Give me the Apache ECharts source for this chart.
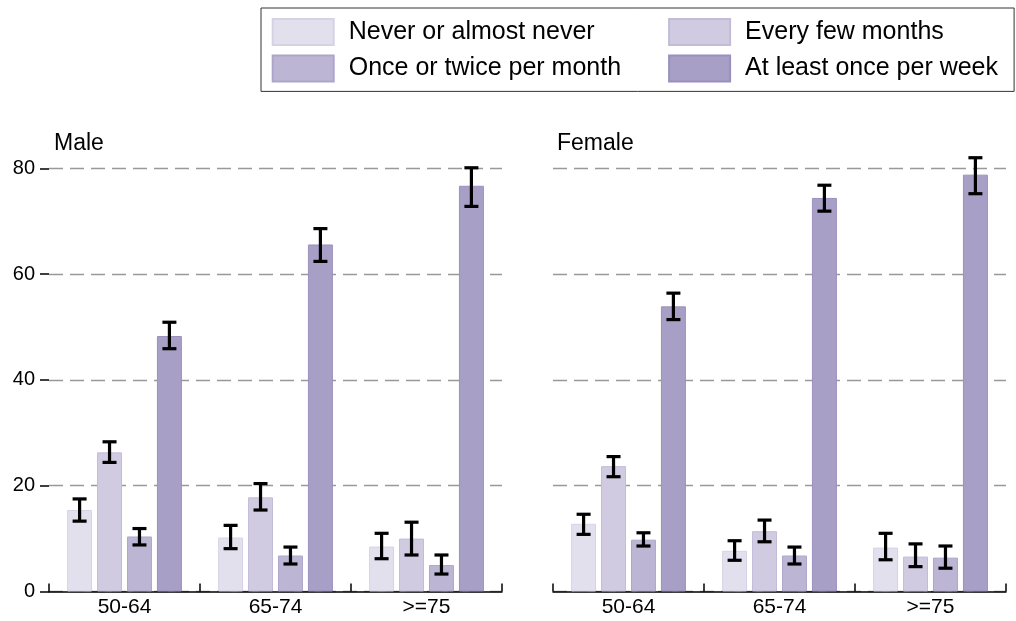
<!DOCTYPE html>
<html>
<head>
<meta charset="utf-8">
<script src="https://cdn.jsdelivr.net/npm/echarts@6/dist/echarts.min.js"></script>
<style>html,body{margin:0;padding:0;background:#fff}#c{width:1016px;height:621px}</style>
</head>
<body>
<div id="c"></div>
<script>
// ---- data ----
var categories = ['50-64', '65-74', '>=75'];
var seriesNames = ['Never or almost never', 'Every few months', 'Once or twice per month', 'At least once per week'];
var panelTitles = ['Male', 'Female'];
var yTicks = [0, 20, 40, 60, 80];

var maleNever  = [15.4, 10.2, 8.5];
var maleFew    = [26.3, 17.8, 10.0];
var maleOnce   = [10.4, 6.8, 5.0];
var maleWeekly = [48.3, 65.6, 76.7];
var maleNeverCI  = [[13.3, 17.5], [8.1, 12.5], [6.2, 11.0]];
var maleFewCI    = [[24.4, 28.3], [15.4, 20.4], [6.9, 13.1]];
var maleOnceCI   = [[8.8, 11.9], [5.2, 8.4], [3.3, 6.9]];
var maleWeeklyCI = [[45.9, 50.9], [62.4, 68.6], [72.8, 80.1]];

var femaleNever  = [12.8, 7.7, 8.3];
var femaleFew    = [23.7, 11.4, 6.6];
var femaleOnce   = [9.8, 6.8, 6.4];
var femaleWeekly = [53.9, 74.4, 78.8];
var femaleNeverCI  = [[10.8, 14.6], [5.9, 9.6], [6.0, 11.0]];
var femaleFewCI    = [[21.7, 25.5], [9.4, 13.5], [4.7, 9.0]];
var femaleOnceCI   = [[8.6, 11.1], [5.2, 8.4], [4.4, 8.6]];
var femaleWeeklyCI = [[51.4, 56.4], [71.9, 76.8], [75.2, 82.0]];

// ---- styling ----
var colors  = ['#e3e0ee', '#d0cbe1', '#bcb6d4', '#a89fc6'];
var borders = ['#d6d2e6', '#c2bcd8', '#aea6ca', '#9a90bd'];
var FONT = '"Liberation Sans", Arial, sans-serif';
var CAT_GAP = 0.24, BAR_GAP = 0.2, N = 4;

var panels = [
  { vals: [maleNever, maleFew, maleOnce, maleWeekly], ci: [maleNeverCI, maleFewCI, maleOnceCI, maleWeeklyCI] },
  { vals: [femaleNever, femaleFew, femaleOnce, femaleWeekly], ci: [femaleNeverCI, femaleFewCI, femaleOnceCI, femaleWeeklyCI] }
];

function errRender(params, api) {
  var cat = api.value(0), lo = api.value(1), hi = api.value(2), k = api.value(3);
  var band = api.size([1, 0])[0];
  var used = band * (1 - CAT_GAP);
  var bw = used / (N + (N - 1) * BAR_GAP);
  var cx = api.coord([cat, 0])[0] - used / 2 + k * bw * (1 + BAR_GAP) + bw / 2;
  var yl = api.coord([cat, lo])[1], yh = api.coord([cat, hi])[1];
  var cap = 7, st = { stroke: '#000', lineWidth: 3.2 };
  return { type: 'group', children: [
    { type: 'line', shape: { x1: cx, y1: yl, x2: cx, y2: yh }, style: st },
    { type: 'line', shape: { x1: cx - cap, y1: yl, x2: cx + cap, y2: yl }, style: st },
    { type: 'line', shape: { x1: cx - cap, y1: yh, x2: cx + cap, y2: yh }, style: st }
  ]};
}

var series = [];
panels.forEach(function (p, pi) {
  p.vals.forEach(function (arr, k) {
    series.push({
      type: 'bar', name: seriesNames[k], xAxisIndex: pi, yAxisIndex: pi,
      data: arr, barCategoryGap: (CAT_GAP * 100) + '%', barGap: (BAR_GAP * 100) + '%',
      itemStyle: { color: colors[k], borderColor: borders[k], borderWidth: 1 },
      emphasis: { disabled: true }, animation: false
    });
  });
  var errData = [];
  p.ci.forEach(function (ciArr, k) {
    ciArr.forEach(function (c, i) { errData.push([i, c[0], c[1], k]); });
  });
  series.push({
    type: 'custom', xAxisIndex: pi, yAxisIndex: pi, renderItem: errRender,
    data: errData, encode: { x: 0, y: [1, 2] }, clip: false, z: 10, animation: false, silent: true
  });
});

var grids = [
  { left: 49, top: 168.3, width: 453, bottom: 29.5 },
  { left: 553, top: 168.3, width: 453, bottom: 29.5 }
];

function xAx(i) {
  return {
    type: 'category', gridIndex: i, data: categories, boundaryGap: true,
    axisLine: { lineStyle: { color: '#000', width: 1.5 } },
    axisTick: { show: true, inside: true, length: 8, lineStyle: { color: '#000', width: 1.5 } },
    axisLabel: { color: '#000', fontSize: 21, fontFamily: FONT, margin: 5 }
  };
}
function yAx(i) {
  return {
    type: 'value', gridIndex: i, min: yTicks[0], max: yTicks[yTicks.length - 1], interval: yTicks[1] - yTicks[0],
    axisLine: { show: false },
    axisTick: { show: i === 0, length: 9, lineStyle: { color: '#000', width: 1.5 } },
    axisLabel: { show: i === 0, color: '#000', fontSize: 20, fontFamily: FONT, margin: 14 },
    splitLine: { show: true, lineStyle: { color: '#999', width: 1.3, type: [14, 7] } }
  };
}

var leftCol = [seriesNames[0], seriesNames[2]];
var chart = echarts.init(document.getElementById('c'), null, { renderer: 'canvas' });
chart.setOption({
  animation: false,
  backgroundColor: '#fff',
  textStyle: { fontFamily: FONT },
  title: [
    { text: panelTitles[0], left: 49, top: 127, textStyle: { fontSize: 23, fontWeight: 'normal', color: '#000', fontFamily: FONT } },
    { text: panelTitles[1], left: 552, top: 127, textStyle: { fontSize: 23, fontWeight: 'normal', color: '#000', fontFamily: FONT } }
  ],
  legend: {
    left: 261, top: 8, width: 752,
    padding: [10, 10, 9, 10.7],
    itemWidth: 61, itemHeight: 26, itemGap: 8.4,
    borderColor: '#333', borderWidth: 1,
    selectedMode: false,
    icon: 'rect',
    formatter: function (name) {
      return (leftCol.indexOf(name) >= 0 ? '{w|' : '{n|') + name + '}';
    },
    textStyle: {
      fontSize: 25, color: '#000', fontFamily: FONT,
      rich: {
        w: { fontSize: 25, color: '#000', fontFamily: FONT, width: 311, height: 26, lineHeight: 26, padding: [0, 0, 0, 10] },
        n: { fontSize: 25, color: '#000', fontFamily: FONT, width: 259, height: 26, lineHeight: 26, padding: [0, 0, 0, 10] }
      }
    },
    data: seriesNames.slice()
  },
  grid: grids,
  xAxis: [xAx(0), xAx(1)],
  yAxis: [yAx(0), yAx(1)],
  series: series
});
</script>
</body>
</html>
